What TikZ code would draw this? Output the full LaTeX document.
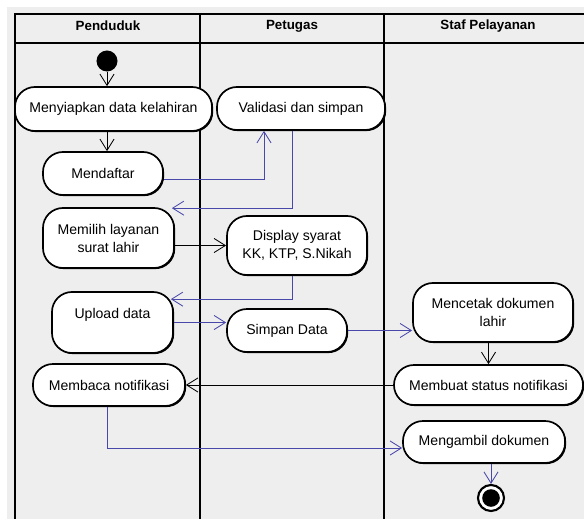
\documentclass[tikz,border=0pt]{standalone}
\usepackage{fontspec}
\setsansfont{Liberation Sans}
\usetikzlibrary{arrows.meta}
\usetikzlibrary{calc}
\usetikzlibrary{shadows}
\definecolor{flowblue}{RGB}{72,72,170}
\definecolor{lanegray}{RGB}{238,238,238}

\begin{document}
\begin{tikzpicture}[x=0.025cm, y=-0.025cm,
    font=\sffamily\fontsize{10}{12.8}\selectfont,
    act/.style={draw=black, line width=1.2pt, fill=white, rounded corners=0.5cm, align=center, inner sep=0pt,
        drop shadow={shadow xshift=0.8pt, shadow yshift=-0.8pt, opacity=1, fill=black}},
    link/.style={line width=0.6pt, -{Straight Barb[length=8pt,width=10pt]}},
    flow/.style={link, draw=flowblue},
    lane/.style={line width=1.4pt},
    head/.style={font=\sffamily\bfseries\fontsize{9.5}{11}\selectfont}]

    \useasboundingbox (0,0) rectangle (584,519);
    \fill[lanegray] (7,7) rectangle (584,519);

    \draw[lane] (15,519) |- (584,14);
    \draw[lane] (15,43) -- (584,43);
    \draw[lane] (200,14) -- (200,519);
    \draw[lane] (384,14) -- (384,519);

    \node[head] (hpenduduk) at (108,26) {Penduduk};
    \node[head] (hpetugas) at (292,26) {Petugas};
    \node[head] (hstaf) at (488,26) {Staf Pelayanan};

    \node[shape=circle, fill=black, inner sep=0pt, minimum size=0.525cm] (start) at (107,61) {};

    \node[act, minimum width=4.925cm, minimum height=1.1cm] (menyiapkan) at (113.5,109) {Menyiapkan data kelahiran};
    \node[act, minimum width=4.2cm, minimum height=1.075cm] (validasi) at (301,108.5) {Validasi dan simpan};
    \node[act, minimum width=3cm, minimum height=1.075cm] (mendaftar) at (103,173.5) {Mendaftar};
    \node[act, minimum width=3.275cm, minimum height=1.5cm] (memilih) at (108.5,238) {Memilih layanan\\surat lahir};
    \node[act, minimum width=3.5cm, minimum height=1.475cm] (display) at (297,245.5) {Display syarat\\KK, KTP, S.Nikah};
    \node[act, minimum width=3.025cm, minimum height=1.525cm] (upload) at (112.5,322.5) {Upload data\\~};
    \node[act, minimum width=3cm, minimum height=1.075cm] (simpan) at (287,330.5) {Simpan Data};
    \node[act, minimum width=4cm, minimum height=1.475cm] (mencetak) at (493,312.5) {Mencetak dokumen\\lahir};
    \node[act, minimum width=4.725cm, minimum height=1cm] (membuat) at (488.5,385) {Membuat status notifikasi};
    \node[act, minimum width=3.8cm, minimum height=1.05cm] (membaca) at (109,385) {Membaca notifikasi};
    \node[act, minimum width=4.05cm, minimum height=1.05cm] (mengambil) at (484,442) {Mengambil dokumen};

    \node[shape=circle, draw=black, line width=1.5pt, fill=white, minimum size=0.65cm,
        path picture={\fill[black] (path picture bounding box.center) circle (0.22cm);}] (stop) at (491,498) {};

    \draw[link] (start) -- (start |- menyiapkan.north);
    \draw[link] (menyiapkan.south -| start) -- (mendaftar.north -| start);
    \draw[flow] ($(mendaftar.east)+(0,6)$) -| ($(validasi.south)+(-37,0)$);
    \draw[flow] ($(validasi.south)+(-9,0)$) |- ($(memilih.north east)+(-3,1)$);
    \draw[link] (display.west -| memilih.east) -- (display.west);
    \draw[flow] ($(display.south)+(-5,0)$) |- ($(upload.north east)+(-3,8)$);
    \draw[flow] (upload.east) -- (upload.east -| simpan.west);
    \draw[flow] (simpan.east) -- (simpan.east -| mencetak.west);
    \draw[link] (mencetak.south -| membuat) -- (membuat.north);
    \draw[link] (membuat.west) -- (membuat.west -| membaca.east);
    \draw[flow] ($(membaca.south)+(-2,0)$) |- ($(mengambil.west)+(0,6)$);
    \draw[flow] (mengambil.south -| stop) -- (stop.north);

\end{tikzpicture}
\end{document}
